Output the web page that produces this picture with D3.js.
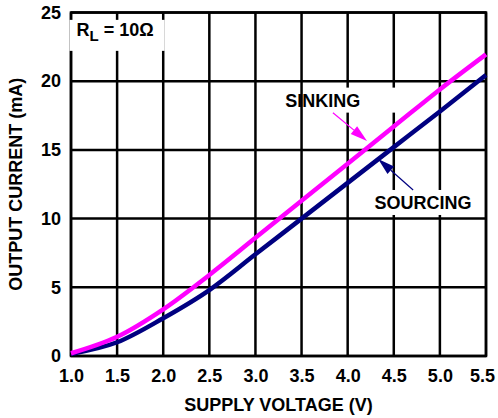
<!DOCTYPE html>
<html>
<head>
<meta charset="utf-8">
<script src="https://cdn.jsdelivr.net/npm/d3@7"></script>
<style>
  body { margin: 0; background: #fff; }
  text { font-family: "Liberation Sans", Arial, sans-serif; font-weight: bold; }
</style>
</head>
<body>
<div id="chart"></div>
<script>
// data
const voltage = [1.0, 1.5, 2.0, 2.5, 3.0, 3.5, 4.0, 4.5, 5.0, 5.5];
const sinking = [0.2, 1.4, 3.4, 5.9, 8.6, 11.3, 14.0, 16.7, 19.4, 21.95];
const sourcing = [0.15, 1.0, 2.75, 4.8, 7.4, 10.0, 12.6, 15.2, 17.8, 20.45];
const xTicks = [1.0, 1.5, 2.0, 2.5, 3.0, 3.5, 4.0, 4.5, 5.0, 5.5];
const yTicks = [0, 5, 10, 15, 20, 25];

const width = 498, height = 418;
const margin = { top: 12.5, right: 12, bottom: 62, left: 71 };
const w = width - margin.left - margin.right;
const h = height - margin.top - margin.bottom;

const svg = d3.select("#chart").append("svg")
  .attr("width", width)
  .attr("height", height);

const g = svg.append("g")
  .attr("transform", "translate(" + margin.left + "," + margin.top + ")");

const x = d3.scaleLinear().domain([1.0, 5.5]).range([0, w]);
const y = d3.scaleLinear().domain([0, 25]).range([h, 0]);

// grid
g.append("g").selectAll("line")
  .data(xTicks)
  .enter().append("line")
  .attr("x1", d => x(d)).attr("x2", d => x(d))
  .attr("y1", 0).attr("y2", h)
  .attr("stroke", "#000").attr("stroke-width", 2.5);

g.append("g").selectAll("line")
  .data(yTicks)
  .enter().append("line")
  .attr("x1", 0).attr("x2", w)
  .attr("y1", d => y(d)).attr("y2", d => y(d))
  .attr("stroke", "#000").attr("stroke-width", 2.5);

g.append("rect")
  .attr("width", w).attr("height", h)
  .attr("fill", "none").attr("stroke", "#000").attr("stroke-width", 2.5);

// axes (labels only)
const xAxis = g.append("g")
  .attr("transform", "translate(0," + h + ")")
  .call(d3.axisBottom(x).tickValues(xTicks).tickFormat(d3.format(".1f")).tickSize(0).tickPadding(13));
const yAxis = g.append("g")
  .call(d3.axisLeft(y).tickValues(yTicks).tickSize(0).tickPadding(10));
[xAxis, yAxis].forEach(a => {
  a.select(".domain").remove();
  a.selectAll("text").attr("font-size", 18).attr("fill", "#000")
    .style("font-family", '"Liberation Sans", Arial, sans-serif').style("font-weight", "bold");
});
xAxis.selectAll("text").filter(d => d === 5.5).attr("dx", -4);

// white label boxes
function labelBox(px, py, txt) {
  const t = g.append("text").attr("x", px).attr("y", py).attr("font-size", 18).text(txt);
  const b = t.node().getBBox();
  g.insert("rect", function () { return t.node(); })
    .attr("x", b.x - 6).attr("y", b.y - 3)
    .attr("width", b.width + 12).attr("height", b.height + 5)
    .attr("fill", "#fff");
  return t;
}

// curves
const line = d3.line().curve(d3.curveMonotoneX)
  .x((d, i) => x(voltage[i]))
  .y(d => y(d));

g.append("path").datum(sourcing)
  .attr("d", line).attr("fill", "none")
  .attr("stroke", "#000080").attr("stroke-width", 4.5);
g.append("path").datum(sinking)
  .attr("d", line).attr("fill", "none")
  .attr("stroke", "#ff00ff").attr("stroke-width", 4.5);

// R_L label
const rl = g.append("text").attr("x", x(1.06)).attr("y", y(23.3)).attr("font-size", 18);
rl.append("tspan").text("R");
rl.append("tspan").attr("dy", 5).attr("font-size", 15).text("L");
rl.append("tspan").attr("dy", -5).text(" = 10\u03A9");
const rb = rl.node().getBBox();
g.insert("rect", function () { return rl.node(); })
  .attr("x", rb.x - 7).attr("y", rb.y)
  .attr("width", rb.width + 18).attr("height", rb.height + 7)
  .attr("fill", "#fff");

// annotations
labelBox(x(3.73), y(18.15), "SINKING").attr("text-anchor", "middle");
g.selectAll("rect").filter(function () { return false; });
const src = labelBox(x(4.29), y(10.7), "SOURCING");

function arrow(x0, y0, x1, y1, color) {
  const ax = x(x0), ay = y(y0), bx = x(x1), by = y(y1);
  const ang = Math.atan2(by - ay, bx - ax);
  const len = 17, half = 5;
  const baseX = bx - len * Math.cos(ang), baseY = by - len * Math.sin(ang);
  g.append("line")
    .attr("x1", ax).attr("y1", ay).attr("x2", baseX).attr("y2", baseY)
    .attr("stroke", color).attr("stroke-width", 1.2);
  g.append("path")
    .attr("d", "M" + bx + "," + by +
      "L" + (baseX + half * Math.sin(ang)) + "," + (baseY - half * Math.cos(ang)) +
      "L" + (baseX - half * Math.sin(ang)) + "," + (baseY + half * Math.cos(ang)) + "Z")
    .attr("fill", color);
}
arrow(3.84, 17.7, 4.21, 15.65, "#ff00ff");
arrow(4.71, 12.08, 4.33, 14.34, "#000080");

// axis titles
svg.append("text")
  .attr("x", margin.left + w / 2).attr("y", 411)
  .attr("text-anchor", "middle").attr("font-size", 18)
  .text("SUPPLY VOLTAGE (V)");
svg.append("text")
  .attr("transform", "translate(21.5," + (margin.top + h / 2) + ") rotate(-90)")
  .attr("text-anchor", "middle").attr("font-size", 18)
  .text("OUTPUT CURRENT (mA)");
</script>
</body>
</html>
